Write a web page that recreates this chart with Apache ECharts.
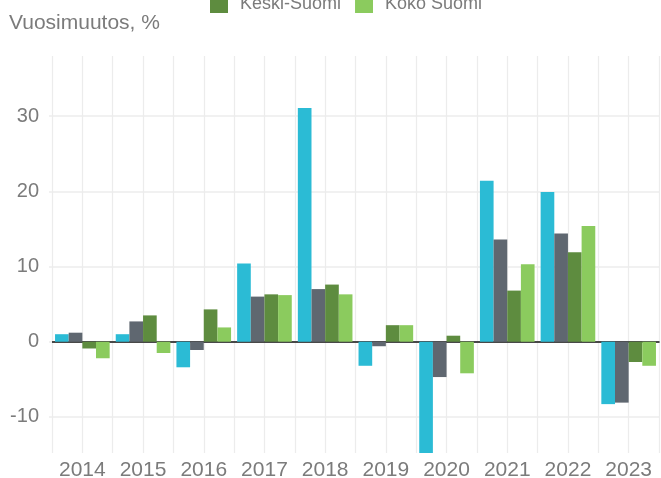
<!DOCTYPE html>
<html>
<head>
<meta charset="utf-8">
<script src="https://cdn.jsdelivr.net/npm/echarts@6/dist/echarts.min.js"></script>
<style>
  html, body { margin: 0; padding: 0; background: #fff; }
  #chart { width: 661px; height: 478px; }
</style>
</head>
<body>
<div id="chart"></div>
<script>
const years = ['2014', '2015', '2016', '2017', '2018', '2019', '2020', '2021', '2022', '2023'];

const seriesNames = ['Jyväskylä', 'Jyväskylän seutukunta', 'Keski-Suomi', 'Koko Suomi'];
const seriesColors = ['#2bbbd5', '#5f6770', '#5e8c3f', '#8bcb5e'];

const jyvaskyla = [1.0, 1.0, -3.4, 10.4, 31.1, -3.2, -17, 21.4, 19.9, -8.3];
const seutukunta = [1.2, 2.7, -1.1, 6.0, 7.0, -0.6, -4.7, 13.6, 14.4, -8.1];
const keskiSuomi = [-0.9, 3.5, 4.3, 6.3, 7.6, 2.2, 0.8, 6.8, 11.9, -2.7];
const kokoSuomi = [-2.2, -1.5, 1.9, 6.2, 6.3, 2.2, -4.2, 10.3, 15.4, -3.2];

const yMin = -14.8;
const yMax = 38;

const font = 'Liberation Sans, Arial, sans-serif';
const labelColor = '#7b7b7b';
const gridColor = '#f1f1f1';

const makeBar = (name, data, color) => ({
  name,
  type: 'bar',
  data,
  xAxisIndex: 0,
  barGap: 0,
  barCategoryGap: '10%',
  itemStyle: { color },
  emphasis: { disabled: true }
});

const legendStyle = {
  itemWidth: 18,
  itemHeight: 18,
  icon: 'rect',
  itemGap: 14,
  textStyle: { fontSize: 18, color: labelColor, padding: [0, 0, 0, 7] }
};

const getOptions = () => {
  return {
    animation: false,
    textStyle: { fontFamily: font },
    title: {
      text: 'Vuosimuutos, %',
      left: 4,
      top: 8,
      textStyle: { fontSize: 21, fontWeight: 'normal', color: labelColor, fontFamily: font }
    },
    legend: [
      // first legend row sits above the visible area
      { ...legendStyle, data: seriesNames.slice(0, 2), left: 205, top: -40 },
      { ...legendStyle, data: seriesNames.slice(2), left: 205, top: -10 }
    ],
    grid: { left: 52, right: 2, top: 56, bottom: 25, outerBoundsMode: 'none' },
    xAxis: [
      {
        type: 'category',
        data: years,
        axisLine: { onZero: true, lineStyle: { color: '#111', width: 1.5 } },
        axisTick: { show: false },
        splitLine: { show: false },
        axisLabel: { interval: 0, color: labelColor, fontSize: 21, margin: 7, fontFamily: font }
      },
      {
        // half-category gridlines
        type: 'value',
        min: 0,
        max: years.length * 2,
        interval: 1,
        position: 'top',
        axisLine: { show: false },
        axisTick: { show: false },
        axisLabel: { show: false },
        splitLine: { show: true, lineStyle: { color: '#ececec', width: 1.2 } }
      }
    ],
    yAxis: {
      type: 'value',
      min: yMin,
      max: yMax,
      axisLine: { show: false },
      axisTick: { show: true, length: 3, lineStyle: { color: gridColor, width: 2 } },
      axisLabel: {
        color: labelColor,
        fontSize: 20,
        margin: 13,
        fontFamily: font,
        showMinLabel: false,
        showMaxLabel: false
      },
      splitLine: {
        lineStyle: {
          width: 2,
          color: ['rgba(0,0,0,0)', gridColor, gridColor, gridColor, gridColor, gridColor, 'rgba(0,0,0,0)']
        }
      }
    },
    series: [
      makeBar(seriesNames[0], jyvaskyla, seriesColors[0]),
      makeBar(seriesNames[1], seutukunta, seriesColors[1]),
      makeBar(seriesNames[2], keskiSuomi, seriesColors[2]),
      makeBar(seriesNames[3], kokoSuomi, seriesColors[3])
    ]
  };
};

const chart = echarts.init(document.getElementById('chart'), null, { renderer: 'canvas' });
chart.setOption(getOptions());
</script>
</body>
</html>
